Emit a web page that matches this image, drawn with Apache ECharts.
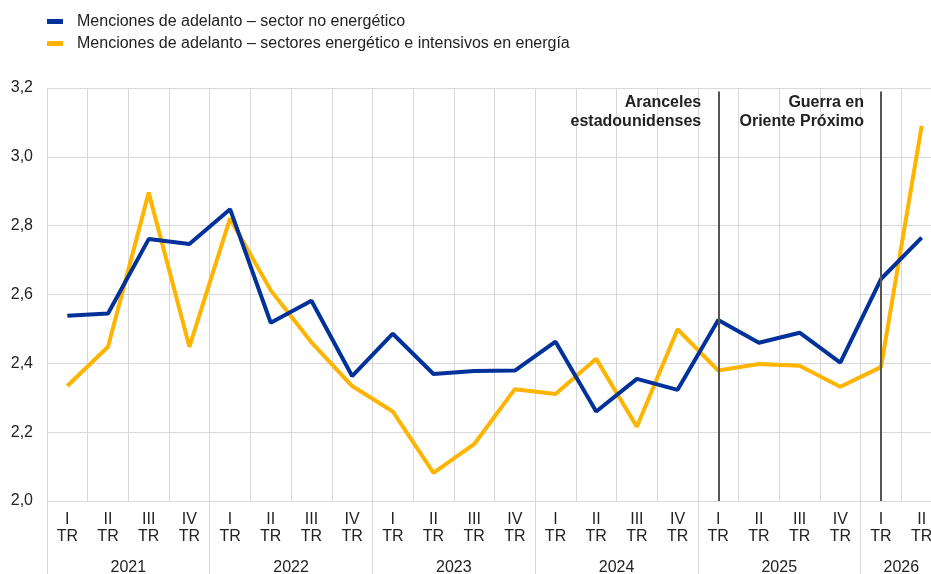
<!DOCTYPE html>
<html>
<head>
<meta charset="utf-8">
<script src="https://cdn.jsdelivr.net/npm/echarts@6/dist/echarts.min.js"></script>
<style>
  html, body { margin: 0; padding: 0; background: #fff; }
  #chart { width: 931px; height: 574px; }
</style>
</head>
<body>
<div id="chart"></div>
<script>
'use strict';

// quarters shown on the axis (2021 I TR .. 2026 II TR)
var quarterNames = ['I', 'II', 'III', 'IV', 'I', 'II', 'III', 'IV', 'I', 'II', 'III', 'IV',
    'I', 'II', 'III', 'IV', 'I', 'II', 'III', 'IV', 'I', 'II'];
var years = ['2021', '2022', '2023', '2024', '2025', '2026'];

var noEnergy = [2.538, 2.545, 2.761, 2.747, 2.848, 2.518, 2.582, 2.363, 2.486, 2.369, 2.378,
    2.379, 2.463, 2.260, 2.355, 2.323, 2.526, 2.460, 2.489, 2.402, 2.645, 2.765];
var energy = [2.334, 2.448, 2.896, 2.448, 2.821, 2.612, 2.461, 2.334, 2.260, 2.082, 2.165,
    2.325, 2.311, 2.413, 2.216, 2.499, 2.379, 2.398, 2.393, 2.332, 2.389, 3.090];

var seriesNames = ['Menciones de adelanto \u2013 sector no energético',
    'Menciones de adelanto \u2013 sectores energético e intensivos en energía'];

// events: quarter index and label
var eventIdx = [16, 20];
var eventLabels = ['Aranceles\nestadounidenses', 'Guerra en\nOriente Próximo'];

var FONT = '"Liberation Sans", Arial, sans-serif';
var GRID_COLOR = '#d9d9d9';
var TEXT_COLOR = '#222';

var quarterLabels = quarterNames.map(function (q) { return q + '\nTR'; });

// year axis: one slot per quarter boundary (23), year name at the group centre
var yearSlots = [];
for (var i = 0; i <= quarterNames.length; i++) yearSlots.push('');
var start = 0;
years.forEach(function (y, k) {
    var n = (k === years.length - 1) ? quarterNames.length - start : 4;
    yearSlots[start + n / 2] = y;
    start += n;
});

var myChart = echarts.init(document.getElementById('chart'));

var option = {
    animation: false,
    textStyle: { fontFamily: FONT },
    legend: {
        orient: 'vertical',
        left: 47,
        top: 13,
        padding: 0,
        itemWidth: 16,
        itemHeight: 5,
        itemGap: 5,
        icon: 'rect',
        selectedMode: false,
        textStyle: { fontFamily: FONT, fontSize: 16, color: TEXT_COLOR, lineHeight: 17, padding: [0, 0, 0, 9] },
        data: seriesNames
    },
    // the plot runs a little past the right edge, as in the original
    grid: { left: 47, right: -11, top: 88, bottom: 73, containLabel: false, outerBoundsMode: 'none' },
    xAxis: [
        {
            type: 'category',
            data: quarterLabels,
            boundaryGap: true,
            axisLine: { lineStyle: { color: GRID_COLOR, width: 1 } },
            axisTick: { show: false },
            axisLabel: { interval: 0, margin: 10, fontSize: 16, lineHeight: 17, color: TEXT_COLOR, fontFamily: FONT },
            splitLine: { show: true, interval: 0, lineStyle: { color: GRID_COLOR, width: 1 } }
        },
        {
            type: 'category',
            data: yearSlots,
            boundaryGap: false,
            position: 'bottom',
            axisLine: { show: false },
            axisTick: {
                show: true,
                length: 73,
                interval: function (index) { return index % 4 === 0; },
                lineStyle: { color: GRID_COLOR, width: 1 }
            },
            axisLabel: { interval: 0, margin: 59, fontSize: 16, color: TEXT_COLOR, fontFamily: FONT },
            splitLine: { show: false }
        }
    ],
    yAxis: {
        type: 'value',
        min: 2.0,
        max: 3.2,
        interval: 0.2,
        axisLine: { show: false },
        axisTick: { show: false },
        axisLabel: {
            margin: 14,
            fontSize: 16,
            color: TEXT_COLOR,
            fontFamily: FONT,
            formatter: function (v) { return v.toFixed(1).replace('.', ','); }
        },
        splitLine: { lineStyle: { color: GRID_COLOR, width: 1 } }
    },
    series: [
        {
            name: seriesNames[0],
            type: 'line',
            data: noEnergy,
            symbol: 'none',
            color: '#003299',
            lineStyle: { width: 4, color: '#003299' },
            z: 3,
            markLine: {
                silent: true,
                symbol: 'none',
                label: { show: false },
                lineStyle: { color: '#555', width: 2, type: 'solid' },
                data: eventIdx.map(function (x) {
                    return [{ coord: [x, 3.19] }, { coord: [x, 2.0] }];
                })
            },
            markPoint: {
                silent: true,
                symbol: 'circle',
                symbolSize: 0,
                label: {
                    show: true,
                    position: 'left',
                    distance: 17,
                    fontFamily: FONT,
                    fontSize: 16,
                    fontWeight: 'bold',
                    lineHeight: 19,
                    color: TEXT_COLOR,
                    formatter: function (p) { return p.name; }
                },
                data: eventIdx.map(function (x, k) {
                    return { name: eventLabels[k], coord: [x, 3.129] };
                })
            }
        },
        {
            name: seriesNames[1],
            type: 'line',
            data: energy,
            symbol: 'none',
            color: '#ffb400',
            lineStyle: { width: 4, color: '#ffb400' },
            z: 2
        }
    ]
};

myChart.setOption(option);
</script>
</body>
</html>
